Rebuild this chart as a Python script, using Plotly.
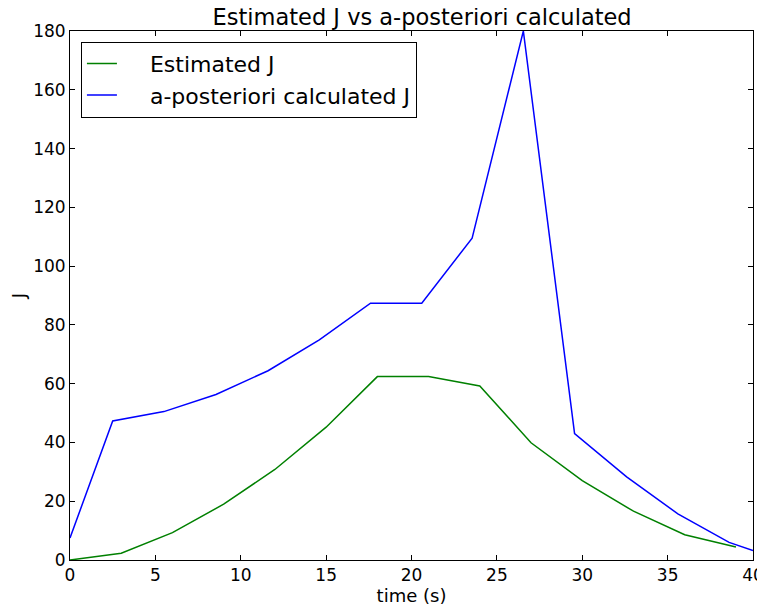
import plotly.graph_objects as go

# estimated J (green)
est_time = [0, 3, 6, 9, 12, 15, 18, 21, 24, 27, 30, 33, 36, 39]
est_J = [0, 2.3, 9.3, 19, 30.8, 45.2, 62.4, 62.4, 59.2, 39.9, 27, 16.6, 8.6, 4.4]

# a-posteriori calculated J (blue)
post_time = [0, 2.5, 5.5, 8.55, 11.6, 14.6, 17.6, 20.6, 23.55, 26.55, 29.55, 32.6, 35.6, 38.6, 40]
post_J = [7.5, 47.3, 50.5, 56.3, 64.4, 74.9, 87.4, 87.4, 109.5, 180, 43, 28.3, 15.7, 6.0, 3.2]

pad = "\u00a0" * 4  # room between legend line and label

fig = go.Figure()

fig.add_trace(go.Scatter(x=est_time, y=est_J, mode="lines", name=pad + "Estimated J",
                         line=dict(color="#008000", width=1.5),
                         legendgroup="a"))
fig.add_trace(go.Scatter(x=post_time, y=post_J, mode="lines", name=pad + "a-posteriori calculated J",
                         line=dict(color="#0000ff", width=1.5),
                         legendgroup="b"))

axis_style = dict(showgrid=False, zeroline=False, showline=True, linecolor="black",
                  linewidth=1, mirror="ticks", ticks="inside", ticklen=5,
                  tickcolor="black", tickfont=dict(size=17, color="black"),
                  automargin=False)

fig.update_xaxes(range=[0, 40], dtick=5, title=dict(text="time (s)", font=dict(size=18), standoff=4),
                 **axis_style)
fig.update_yaxes(range=[0, 180], dtick=20, title=dict(text="J", font=dict(size=18), standoff=6),
                 **axis_style)

# page body has an 8px margin, so the figure is a bit smaller than the window
fig.update_layout(
    width=757, height=603,
    margin=dict(l=62, r=12, t=23, b=51),
    paper_bgcolor="white", plot_bgcolor="white",
    font=dict(family="DejaVu Sans", color="black"),
    title=dict(text="Estimated J vs a-posteriori calculated", x=0.547, xref="container",
               xanchor="center", y=0.985, yref="container", yanchor="middle",
               font=dict(size=22.5)),
    legend=dict(x=0.016, y=0.98, xanchor="left", yanchor="top",
                bordercolor="black", borderwidth=1, bgcolor="white",
                font=dict(size=22), tracegroupgap=0, traceorder="grouped"),
)

fig.write_html("out.html")
